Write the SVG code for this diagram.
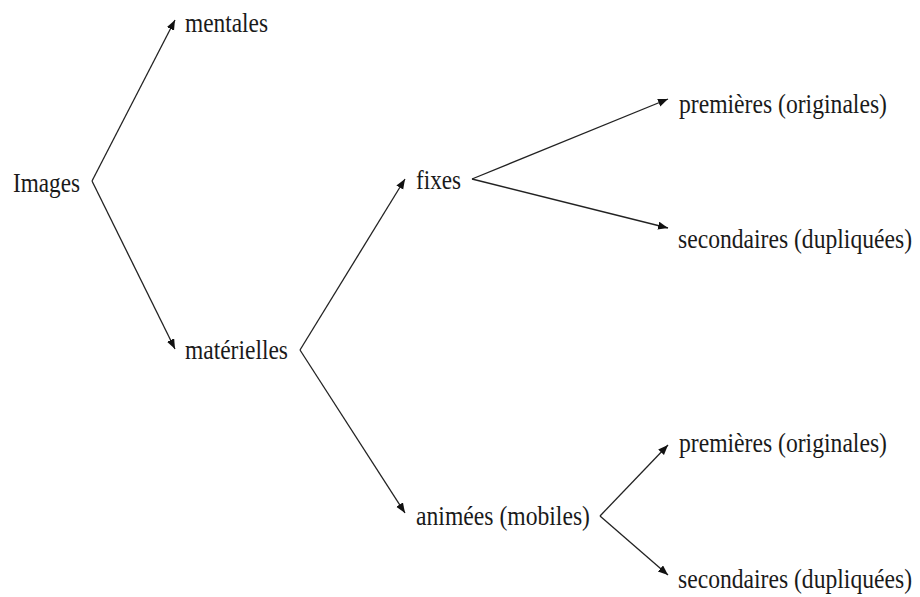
<svg xmlns="http://www.w3.org/2000/svg" width="920" height="597" viewBox="0 0 920 597">
<defs>
<marker id="arr" markerUnits="userSpaceOnUse" markerWidth="12" markerHeight="10" refX="10" refY="4" orient="auto">
<path d="M0,0 L10,4 L0,8 z" fill="#111"/>
</marker>
<style>
text{font-family:'Liberation Serif','Times New Roman',serif;font-size:23.6px;fill:#1a1a1a}
.c{fill:none;stroke:#222;stroke-width:1.3;marker-end:url(#arr)}
</style>
</defs>
<rect width="920" height="597" fill="#fff"/>
<g id="connectors">
<path class="c" d="M92,181 L175,20"/>
<path class="c" d="M92,181 L175,349"/>
<path class="c" d="M300,350 L405,179"/>
<path class="c" d="M300,350 L405,513"/>
<path class="c" d="M472,179 L668,99"/>
<path class="c" d="M472,179 L668,228"/>
<path class="c" d="M600,516 L668,445"/>
<path class="c" d="M600,516 L668,575"/>
</g>
<g font-family="Liberation Serif, Times New Roman, serif">
<g id="n-images"><text transform="translate(13,192) scale(1,1.15)" textLength="67" lengthAdjust="spacingAndGlyphs">Images</text></g>
<g id="n-mentales"><text transform="translate(185,32) scale(1,1.15)" textLength="83" lengthAdjust="spacingAndGlyphs">mentales</text></g>
<g id="n-materielles"><text transform="translate(185,359) scale(1,1.15)" textLength="103" lengthAdjust="spacingAndGlyphs">matérielles</text></g>
<g id="n-fixes"><text transform="translate(416,189) scale(1,1.15)" textLength="45" lengthAdjust="spacingAndGlyphs">fixes</text></g>
<g id="n-animees"><text transform="translate(416,525) scale(1,1.15)" textLength="174" lengthAdjust="spacingAndGlyphs">animées (mobiles)</text></g>
<g id="n-premieres1"><text transform="translate(679,113) scale(1,1.15)" textLength="208" lengthAdjust="spacingAndGlyphs">premières (originales)</text></g>
<g id="n-secondaires1"><text transform="translate(678,248) scale(1,1.15)" textLength="234" lengthAdjust="spacingAndGlyphs">secondaires (dupliquées)</text></g>
<g id="n-premieres2"><text transform="translate(679,452) scale(1,1.15)" textLength="208" lengthAdjust="spacingAndGlyphs">premières (originales)</text></g>
<g id="n-secondaires2"><text transform="translate(678,588) scale(1,1.15)" textLength="234" lengthAdjust="spacingAndGlyphs">secondaires (dupliquées)</text></g>
</g>
</svg>
